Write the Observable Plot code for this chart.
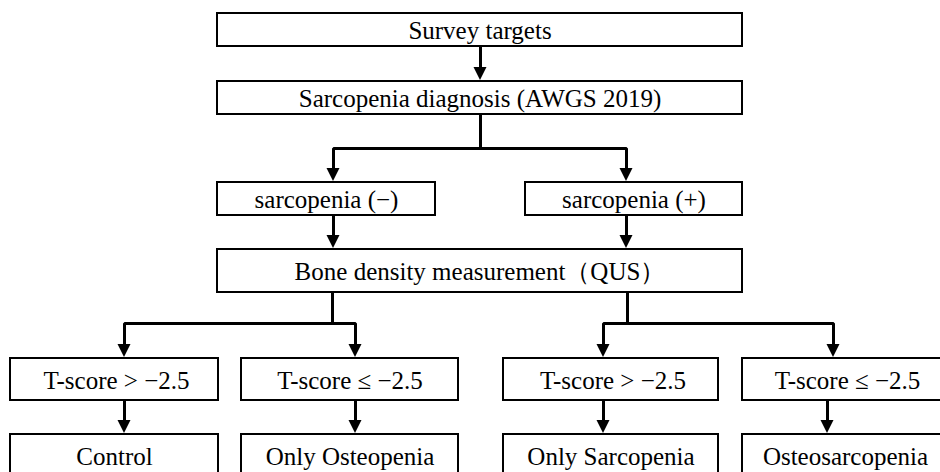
<!DOCTYPE html>
<html>
<head>
<meta charset="utf-8">
<script src="https://cdn.jsdelivr.net/npm/d3@7"></script>
<script src="https://cdn.jsdelivr.net/npm/@observablehq/plot@0.6"></script>
<style>
  html, body { margin: 0; padding: 0; background: #fff; overflow: hidden; }
  #chart svg text { font-family: "Liberation Serif", "Times New Roman", "DejaVu Serif", serif; }
</style>
</head>
<body>
<div id="chart"></div>
<script>
// ---- Flowchart content ----
const nodeIds = ["survey", "diag", "sarcNeg", "sarcPos", "bone",
  "t1", "t2", "t3", "t4", "control", "osteo", "sarco", "osteosarco"];
const nodeLabels = [
  "Survey targets",
  "Sarcopenia diagnosis (AWGS 2019)",
  "sarcopenia (−)",
  "sarcopenia (+)",
  "Bone density measurement（QUS）",
  "T-score > −2.5",
  "T-score ≤ −2.5",
  "T-score > −2.5",
  "T-score ≤ −2.5",
  "Control",
  "Only Osteopenia",
  "Only Sarcopenia",
  "Osteosarcopenia"
];
// edges: from -> to
const edgeFrom = ["survey", "diag", "diag", "sarcNeg", "sarcPos", "bone", "bone", "bone", "bone", "t1", "t2", "t3", "t4"];
const edgeTo   = ["diag", "sarcNeg", "sarcPos", "bone", "bone", "t1", "t2", "t3", "t4", "control", "osteo", "sarco", "osteosarco"];

// ---- Layout (positions in the chart's pixel-space scale units) ----
const boxLayout = {
  survey:     {x1: 217, x2: 742, y1: 13,  y2: 46},
  diag:       {x1: 217, x2: 742, y1: 81,  y2: 114},
  sarcNeg:    {x1: 217, x2: 435, y1: 182, y2: 215},
  sarcPos:    {x1: 525, x2: 742, y1: 182, y2: 215},
  bone:       {x1: 217, x2: 742, y1: 249, y2: 292},
  t1:         {x1: 10,  x2: 218, y1: 358, y2: 400},
  t2:         {x1: 241, x2: 458, y1: 358, y2: 400},
  t3:         {x1: 503, x2: 718, y1: 358, y2: 400},
  t4:         {x1: 742, x2: 952, y1: 358, y2: 400},
  control:    {x1: 10,  x2: 218, y1: 434, y2: 478},
  osteo:      {x1: 241, x2: 458, y1: 434, y2: 478},
  sarco:      {x1: 503, x2: 718, y1: 434, y2: 478},
  osteosarco: {x1: 742, x2: 952, y1: 434, y2: 478}
};
// connector routing: stem x at the source, split level, arrow x at the target
const edgeLayout = [
  {stemX: 480, splitY: null, arrowX: 480},
  {stemX: 480, splitY: 148, arrowX: 333},
  {stemX: 480, splitY: 148, arrowX: 626},
  {stemX: 333, splitY: null, arrowX: 333},
  {stemX: 626, splitY: null, arrowX: 626},
  {stemX: 332, splitY: 323, arrowX: 124},
  {stemX: 332, splitY: 323, arrowX: 355},
  {stemX: 627, splitY: 323, arrowX: 603},
  {stemX: 627, splitY: 323, arrowX: 833},
  {stemX: 124, splitY: null, arrowX: 124},
  {stemX: 355, splitY: null, arrowX: 355},
  {stemX: 603, splitY: null, arrowX: 603},
  {stemX: 827, splitY: null, arrowX: 827}
];
const textOffsetX = {t1: 2, t3: 2, osteosarco: -2};

const HEAD_H = 13, HEAD_W = 13;

// ---- Build tables ----
const nodes = nodeIds.map((id, i) => {
  const b = boxLayout[id];
  const cyRaw = (b.y1 + Math.min(b.y2, 476)) / 2;
  return {id, label: nodeLabels[i], ...b,
    cx: (b.x1 + Math.min(b.x2, 952)) / 2 + (textOffsetX[id] || 0),
    cy: cyRaw + 1};
});
const byId = Object.fromEntries(nodes.map(d => [d.id, d]));

const shafts = [];
const heads = [];
edgeFrom.forEach((f, i) => {
  const src = byId[f], dst = byId[edgeTo[i]], L = edgeLayout[i];
  const tipY = dst.y1 - 1;
  const endY = tipY - HEAD_H + 2;
  if (L.splitY == null) {
    shafts.push({z: i, x: L.arrowX, y: src.y2});
    shafts.push({z: i, x: L.arrowX, y: endY});
  } else {
    shafts.push({z: i, x: L.stemX, y: src.y2});
    shafts.push({z: i, x: L.stemX, y: L.splitY});
    shafts.push({z: i, x: L.arrowX, y: L.splitY});
    shafts.push({z: i, x: L.arrowX, y: endY});
  }
  heads.push({z: i, y: tipY - HEAD_H, x1: L.arrowX - HEAD_W / 2, x2: L.arrowX + HEAD_W / 2});
  heads.push({z: i, y: tipY, x1: L.arrowX, x2: L.arrowX});
});

const FONT = "Liberation Serif";

const chart = Plot.plot({
  width: 940,
  height: 472,
  margin: 0,
  x: {domain: [0, 940], range: [0, 940], axis: null},
  y: {domain: [0, 472], range: [0, 472], axis: null},
  style: {background: "#fff", fontFamily: FONT},
  marks: [
    Plot.rect(nodes, {x1: "x1", x2: "x2", y1: "y1", y2: "y2", fill: "white", stroke: "black", strokeWidth: 2, clip: true}),
    Plot.line(shafts, {x: "x", y: "y", z: "z", stroke: "black", strokeWidth: 3, strokeLinejoin: "miter", strokeLinecap: "butt"}),
    Plot.areaX(heads, {y: "y", x1: "x1", x2: "x2", z: "z", fill: "black"}),
    Plot.text(nodes, {x: "cx", y: "cy", text: "label", fontSize: 25, fill: "black",
      fontFamily: FONT, clip: true})
  ]
});
document.getElementById("chart").appendChild(chart);
</script>
</body>
</html>
